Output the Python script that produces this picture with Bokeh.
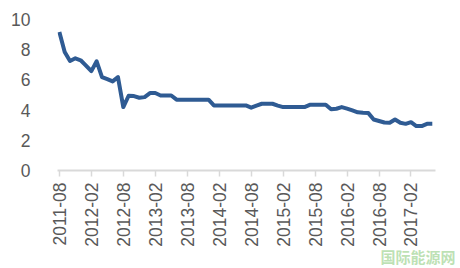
from bokeh.plotting import figure
from bokeh.models import Range1d, FixedTicker, Title
from bokeh.embed import file_html
from bokeh.resources import INLINE

tick_labels = ["2011-08", "2012-02", "2012-08", "2013-02", "2013-08", "2014-02",
               "2014-08", "2015-02", "2015-08", "2016-02", "2016-08", "2017-02"]

values = [9.17, 7.85, 7.25, 7.43, 7.30, 6.95, 6.58, 7.23, 6.19, 6.05,
          5.90, 6.19, 4.20, 4.95, 4.93, 4.82, 4.86, 5.13, 5.13, 4.97,
          4.97, 4.97, 4.69, 4.69, 4.69, 4.69, 4.69, 4.69, 4.69, 4.31,
          4.31, 4.31, 4.31, 4.31, 4.31, 4.31, 4.16, 4.30, 4.42, 4.42,
          4.42, 4.30, 4.20, 4.20, 4.20, 4.20, 4.20, 4.35, 4.35, 4.35,
          4.35, 4.05, 4.09, 4.20, 4.10, 3.98, 3.85, 3.82, 3.80, 3.38,
          3.28, 3.18, 3.16, 3.38, 3.16, 3.09, 3.20, 2.94, 2.94, 3.09,
          3.09]
months = list(range(len(values)))
tick_pos = [i * 6 for i in range(len(tick_labels))]

p = figure(width=460, height=268, output_backend="svg", toolbar_location=None,
           x_range=Range1d(-0.35, 70.6), y_range=Range1d(0, 10),
           min_border_left=57, min_border_right=25, min_border_top=19,
           min_border_bottom=98)
p.outline_line_color = None
p.background_fill_color = "white"
p.border_fill_color = "white"
p.xgrid.visible = False
p.ygrid.visible = False

p.line(months, values, line_color="#2F5B93", line_width=4, line_join="round")

p.xaxis.ticker = FixedTicker(ticks=tick_pos)
p.xaxis.major_label_overrides = {t: l for t, l in zip(tick_pos, tick_labels)}
p.xaxis.major_label_orientation = 1.5708
p.xaxis.axis_line_color = "#D9D9D9"
p.xaxis.axis_line_width = 2
p.xaxis.major_tick_line_color = "#D9D9D9"
p.xaxis.major_tick_line_width = 1.5
p.xaxis.major_tick_out = 6
p.xaxis.major_tick_in = 0
p.xaxis.minor_tick_line_color = None
p.xaxis.major_label_text_font = "Liberation Sans"
p.xaxis.major_label_text_font_size = "17.5px"
p.xaxis.major_label_text_color = "#595959"
p.xaxis.major_label_standoff = 6

p.yaxis.ticker = FixedTicker(ticks=[0, 2, 4, 6, 8, 10])
p.yaxis.axis_line_color = None
p.yaxis.major_tick_line_color = None
p.yaxis.minor_tick_line_color = None
p.yaxis.major_label_text_font = "Liberation Sans"
p.yaxis.major_label_text_font_size = "17.5px"
p.yaxis.major_label_text_color = "#595959"
p.yaxis.major_label_standoff = 21

wm = Title(text="国际能源网", align="right", offset=-20, standoff=-12,
           text_font="Noto Sans CJK SC", text_font_size="15px",
           text_font_style="bold", text_color="#7CC36A", text_alpha=0.5)
p.add_layout(wm, "below")

open("out.html", "w").write(file_html(p, INLINE))
